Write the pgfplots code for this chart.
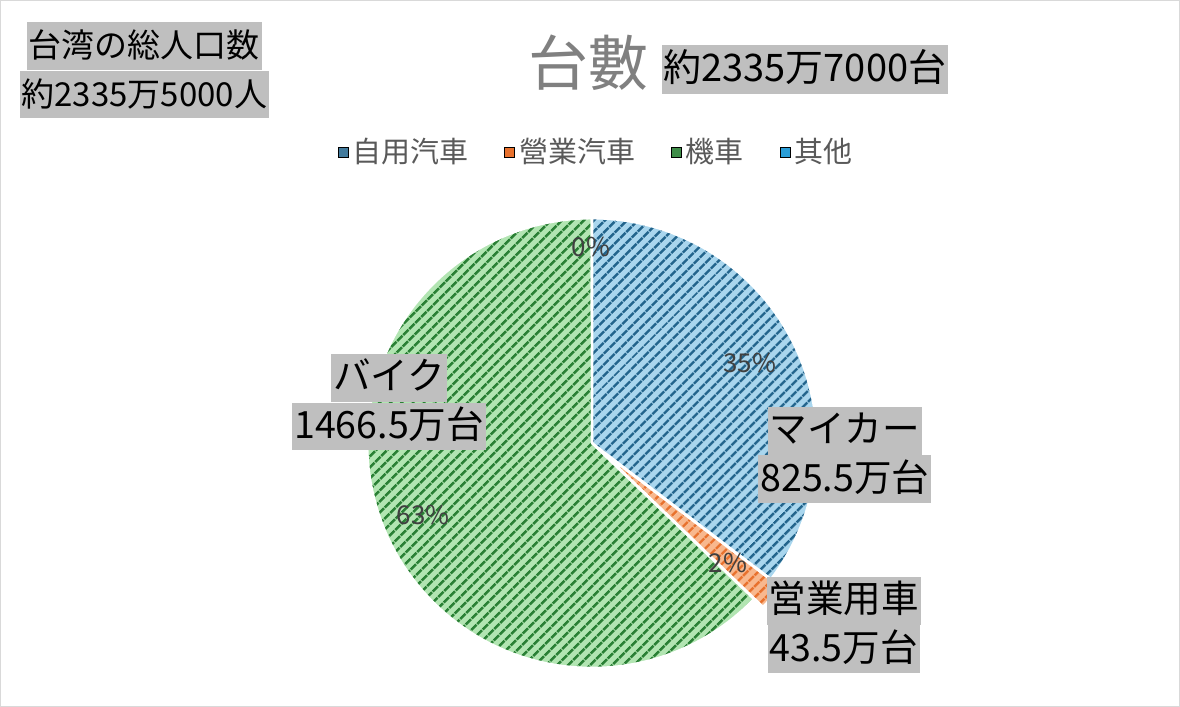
\documentclass[border=0pt]{standalone}
\usepackage{pgfplots}
\pgfplotsset{compat=1.18}
\usepackage{pgfplotstable}
\usetikzlibrary{patterns.meta}
\usepackage{fontspec}
\setmainfont{Noto Sans CJK JP}

\definecolor{blueL}{HTML}{A9D6EE}
\definecolor{blueD}{HTML}{22648C}
\definecolor{orgL}{HTML}{F8B88E}
\definecolor{orgD}{HTML}{E8712D}
\definecolor{grnL}{HTML}{B2E5B2}
\definecolor{grnD}{HTML}{2A8035}
\definecolor{skyL}{HTML}{8FD0F0}
\definecolor{skyD}{HTML}{2A9ED8}
\definecolor{lblgray}{HTML}{BFBFBF}
\definecolor{legtext}{HTML}{595959}
\definecolor{ttlgray}{HTML}{808080}
\definecolor{pcttext}{HTML}{404040}

% 台数（万台）
\pgfplotstableread{
kind   value
car    825.5
biz    43.5
moto   1466.5
other  0.2
}\vehicles

\pgfplotstablegetelem{0}{value}\of\vehicles \let\vA\pgfplotsretval
\pgfplotstablegetelem{1}{value}\of\vehicles \let\vB\pgfplotsretval
\pgfplotstablegetelem{2}{value}\of\vehicles \let\vC\pgfplotsretval
\pgfplotstablegetelem{3}{value}\of\vehicles \let\vD\pgfplotsretval
\pgfmathsetmacro\vT{\vA+\vB+\vC+\vD}
% angles, clockwise from 12 o'clock
\pgfmathsetmacro\aA{90}
\pgfmathsetmacro\aB{\aA-360*(\vA/\vT)}
\pgfmathsetmacro\aC{\aB-360*(\vB/\vT)}
\pgfmathsetmacro\aD{\aC-360*(\vC/\vT)}
\pgfmathsetmacro\aE{\aD-360*(\vD/\vT)}
\pgfmathsetmacro\mB{(\aB+\aC)/2}

\tikzset{
  slice/.style 2 args={preaction={fill=#1},
    pattern={Lines[angle=45,distance=4pt,line width=1.4pt]},
    pattern color=#2, draw=white, line width=1.2pt, line join=round},
  lbl/.style={fill=lblgray, inner xsep=1pt, inner ysep=1.5pt},
  big/.style={lbl, font=\fontsize{18.8}{21}\selectfont,
    text height=16.4pt, text depth=4.6pt},
  pct/.style={text=pcttext, font=\fontsize{13}{15}\selectfont},
}
\newcommand\R{112.5pt}

\begin{document}
\begin{tikzpicture}
\begin{axis}[
  hide axis, x=0.5pt, y=0.5pt,
  xmin=0, xmax=1180, ymin=0, ymax=706,
  clip=false,
  legend style={at={(rel axis cs:0.506,0.785)}, anchor=center,
    draw=none, fill=none, text=legtext,
    font=\fontsize{14.5}{16}\selectfont},
  legend columns=4,
  legend cell align=left,
  /tikz/every even column/.append style={column sep=16pt},
  legend image code/.code={\fill[#1] (0pt,-2.5pt) rectangle (5pt,2.5pt);},
]
\addlegendimage{fill=blueD!85}
\addlegendentry{自用汽車}
\addlegendimage{fill=orgD}
\addlegendentry{營業汽車}
\addlegendimage{fill=grnD!90}
\addlegendentry{機車}
\addlegendimage{fill=skyD}
\addlegendentry{其他}

% frame
\draw[gray!30] (axis cs:0,0) rectangle (axis cs:1180,706);

% slices
\path[slice={blueL}{blueD}] (axis cs:592,263) -- ++(\aA:\R)
  arc[start angle=\aA, end angle=\aB, radius=\R] -- cycle;
\path[slice={grnL}{grnD}] (axis cs:592,263) -- ++(\aC:\R)
  arc[start angle=\aC, end angle=\aD, radius=\R] -- cycle;
\path[slice={skyL}{skyD}] (axis cs:592,263) -- ++(\aD:\R)
  arc[start angle=\aD, end angle=\aE, radius=\R] -- cycle;
\path[slice={orgL}{orgD}, shift={(\mB:6pt)}] (axis cs:592,263) -- ++(\aB:\R)
  arc[start angle=\aB, end angle=\aC, radius=\R] -- cycle;

% percentages
\node[pct] at (axis cs:750,343) {35\%};
\node[pct] at (axis cs:728,143) {2\%};
\node[pct] at (axis cs:423,191) {63\%};
\node[pct] at (axis cs:591,459) {0\%};

% title
\node[text=ttlgray, font=\fontsize{30}{34}\selectfont] at (axis cs:588,644) {台數};
\node[lbl, font=\fontsize{19}{21}\selectfont, text height=16.6pt, text depth=4.6pt]
  at (axis cs:805,637) {約2335万7000台};

% population
\node[lbl, anchor=south, font=\fontsize{16.5}{18}\selectfont, text height=16.2pt, text depth=4.6pt]
  at (axis cs:144,636) {台湾の総人口数};
\node[lbl, anchor=north, font=\fontsize{16.5}{18}\selectfont, text height=16.2pt, text depth=4.6pt]
  at (axis cs:144,636) {約2335万5000人};

% slice labels
\node[big, anchor=south] at (axis cs:845,251) {マイカー};
\node[big, anchor=north] at (axis cs:845,251) {825.5万台};
\node[big, anchor=south] at (axis cs:844,81) {営業用車};
\node[big, anchor=north] at (axis cs:844,81) {43.5万台};
\node[big, anchor=south] at (axis cs:389,304) {バイク};
\node[big, anchor=north] at (axis cs:389,304) {1466.5万台};
\end{axis}
\end{tikzpicture}
\end{document}
